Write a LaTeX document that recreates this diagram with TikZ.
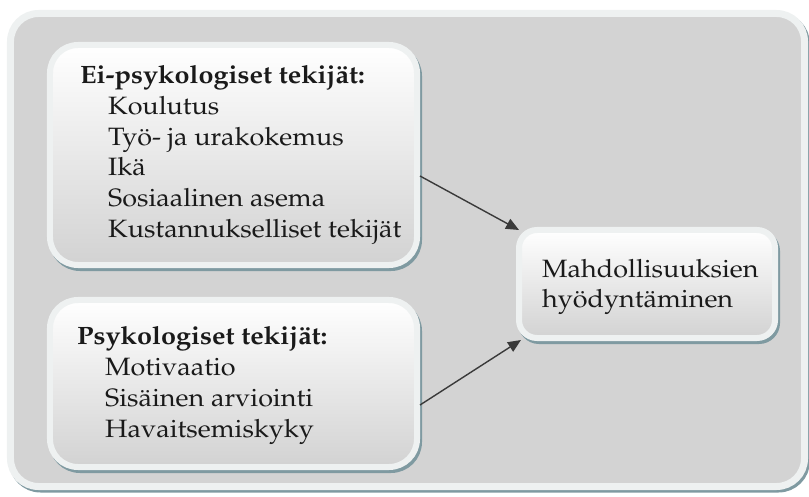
\documentclass[tikz,border=0pt]{standalone}
\usepackage[T1]{fontenc}
\usepackage{mathpazo}
\usetikzlibrary{arrows.meta}

\definecolor{panelgray}{HTML}{D3D3D3}
\definecolor{bandc}{HTML}{EEF1F1}
\definecolor{shadowc}{HTML}{7F9AA1}
\definecolor{boxbottom}{HTML}{D2D2D2}
\definecolor{arrowc}{HTML}{3A3A3A}
\definecolor{textc}{HTML}{1A1A1A}

\tikzset{
  panel/.style={draw=bandc, line width=7bp, fill=panelgray, rounded corners=28bp,
    inner sep=0pt, outer sep=0pt,
    preaction={draw=shadowc, line width=7bp, transform canvas={shift={(2bp,-2.5bp)}}}},
  factorbox/.style={draw=bandc, line width=6bp, top color=white, bottom color=boxbottom,
    rounded corners=#1, inner sep=0pt, outer sep=0pt,
    preaction={draw=shadowc, line width=6bp, transform canvas={shift={(2bp,-3bp)}}}},
  factorbox/.default=28bp,
  boxtext/.style={anchor=west, align=left, inner sep=0pt, text=textc,
    xscale=1.075, transform shape,
    font=\fontsize{25.1bp}{30.7bp}\selectfont},
  link/.style={draw=arrowc, line width=1.4bp, -{Triangle[length=13bp,width=11bp]}},
}
\newcommand{\itemgap}{\hspace*{26bp}}

\begin{document}
\begin{tikzpicture}[x=1bp, y=-1bp]
  \useasboundingbox (0,0) rectangle (809,497);

  % background panel
  \node[panel, minimum width=794bp, minimum height=473bp] (panel) at (407.5,250) {};

  % factor boxes
  \node[factorbox, minimum width=367bp, minimum height=220bp] (b1) at (233.5,155) {};
  \node[factorbox, minimum width=367bp, minimum height=167bp] (b2) at (233.5,383.5) {};
  \node[factorbox=18bp, minimum width=256bp, minimum height=108bp] (b3) at (647,284) {};

  % box texts
  \node[boxtext] (t1) at ([xshift=30bp]b1.west) {%
    \textbf{Ei-psykologiset tekij\"at:}\\
    \itemgap Koulutus\\
    \itemgap Ty\"o- ja urakokemus\\
    \itemgap Ik\"a\\
    \itemgap Sosiaalinen asema\\
    \itemgap Kustannukselliset tekij\"at};
  \node[boxtext] (t2) at ([xshift=27bp,yshift=-2bp]b2.west) {%
    \textbf{Psykologiset tekij\"at:}\\
    \itemgap Motivaatio\\
    \itemgap Sis\"ainen arviointi\\
    \itemgap Havaitsemiskyky};
  \node[boxtext, font=\fontsize{25.1bp}{30bp}\selectfont] (t3) at ([xshift=23bp,yshift=-3bp]b3.west) {%
    Mahdollisuuksien\\
    hy\"odynt\"aminen};

  % connectors
  \draw[link] ([shift={(3bp,-21bp)}]b1.east) -- (b3.north west);
  \draw[link] ([shift={(3bp,-21.5bp)}]b2.east) -- ([shift={(2bp,-2bp)}]b3.south west);
\end{tikzpicture}
\end{document}
